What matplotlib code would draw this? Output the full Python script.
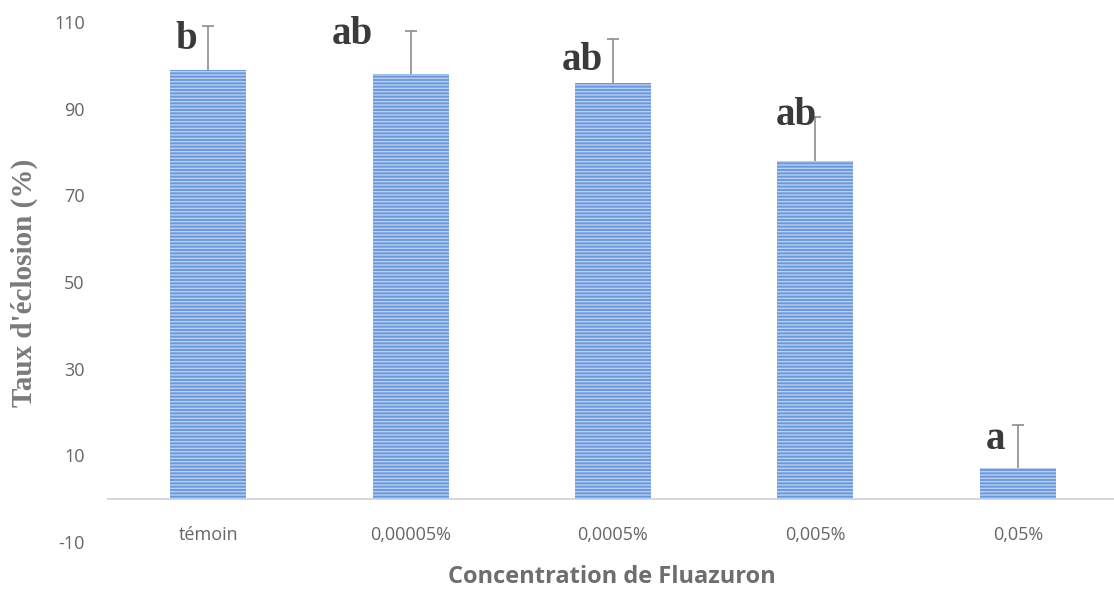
import matplotlib.pyplot as plt

# hatching rate per fluazuron concentration
categories = ["témoin", "0,00005%", "0,0005%", "0,005%", "0,05%"]
taux = [99, 98, 96, 78, 7]
erreur = [10, 10, 10, 10, 10]
lettres = ["b", "ab", "ab", "ab", "a"]
yticks = [-10, 10, 30, 50, 70, 90, 110]

plt.rcParams['hatch.linewidth'] = 1.0
plt.rcParams['axes.unicode_minus'] = False

fig = plt.figure(figsize=(11.14, 5.89), dpi=100)
ax = fig.add_axes([107 / 1114, 47 / 589, 1012 / 1114, 520 / 589])

x = list(range(len(categories)))
ax.bar(x, taux, width=0.375, color='#6C98DA', edgecolor='#B7CFF3',
       linewidth=0, hatch='-----', zorder=2)

# upper error bars only
hauts = [v + e for v, e in zip(taux, erreur)]
ax.vlines(x, taux, hauts, color='#8C8C8C', linewidth=1.2, zorder=3)
ax.plot(x, hauts, linestyle='none', marker='_', markersize=9,
        markeredgewidth=1.2, color='#8C8C8C', zorder=3)

# significance letters, left of the error bars
dx = [-0.11, -0.29, -0.15, -0.094, -0.11]
dy = [-3, -1, -5, 0.5, -3.4]
for i, (h, l) in enumerate(zip(hauts, lettres)):
    ax.text(i + dx[i], h + dy[i], l, ha='center', va='center',
            fontsize=28, fontweight='bold', family='Liberation Serif',
            color='#3A3A3A', zorder=4)

ax.set_xlim(-0.5, 4.5)
ax.set_ylim(-10, 110)
ax.set_yticks(yticks)
ax.set_xticks([])
ax.axhline(0, color='#D0D0D0', linewidth=1.2, zorder=1)
for s in ax.spines.values():
    s.set_visible(False)
ax.tick_params(axis='y', length=0, pad=16, labelsize=13, labelcolor='#666666')
for lab in ax.get_yticklabels():
    lab.set_family('Open Sans')

for i, c in enumerate(categories):
    ax.text(i, -8.3, c, ha='center', va='center', fontsize=13,
            family='Open Sans', color='#666666')

fig.text(612 / 1114, 1 - 577 / 589, "Concentration de Fluazuron", ha='center',
         va='center', fontsize=17, fontweight='bold', family='Open Sans',
         color='#6E6E6E')
fig.text(24 / 1114, 1 - 283 / 589, "Taux d'éclosion (%)", ha='center',
         va='center', rotation=90, fontsize=21, fontweight='bold',
         family='Liberation Serif', color='#7A7A7A')

fig.savefig("out.png", dpi=100)
